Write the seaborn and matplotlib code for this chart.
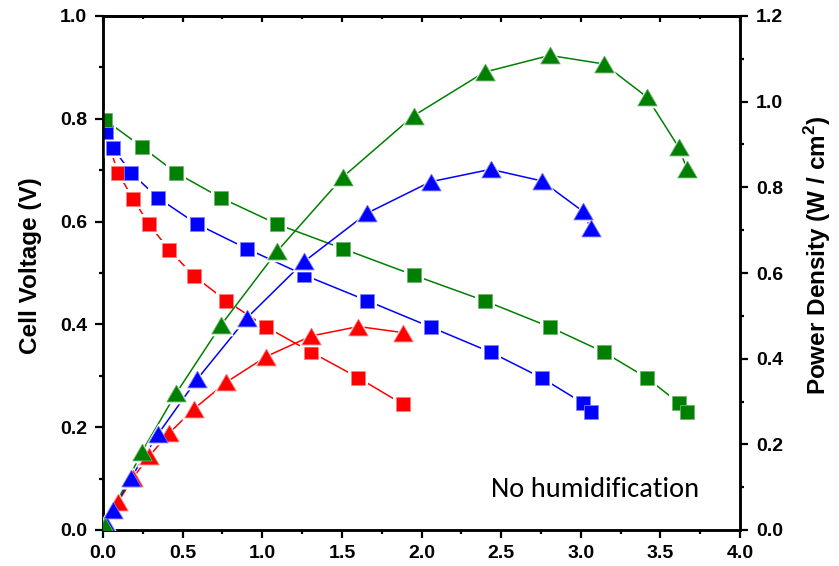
import numpy as np
import pandas as pd
import matplotlib
matplotlib.use("Agg")
import matplotlib.pyplot as plt
from matplotlib.ticker import MultipleLocator
import seaborn as sns

# ---- data ----
current_red = [0.006, 0.094, 0.189, 0.289, 0.415, 0.572, 0.774, 1.025, 1.308, 1.604, 1.881]
voltage_red = [0.780, 0.695, 0.644, 0.595, 0.545, 0.494, 0.446, 0.395, 0.346, 0.296, 0.245]
power_red = [0.005, 0.065, 0.122, 0.172, 0.226, 0.283, 0.345, 0.405, 0.453, 0.475, 0.461]

current_blue = [0.019, 0.063, 0.176, 0.346, 0.591, 0.906, 1.264, 1.660, 2.057, 2.434, 2.755, 3.013, 3.063]
voltage_blue = [0.774, 0.743, 0.695, 0.646, 0.595, 0.547, 0.496, 0.446, 0.395, 0.346, 0.296, 0.247, 0.230]
power_blue = [0.015, 0.047, 0.122, 0.224, 0.352, 0.496, 0.627, 0.740, 0.813, 0.842, 0.815, 0.744, 0.704]

current_green = [0.013, 0.245, 0.459, 0.742, 1.094, 1.509, 1.950, 2.396, 2.805, 3.145, 3.415, 3.616, 3.667]
voltage_green = [0.798, 0.745, 0.695, 0.646, 0.595, 0.547, 0.496, 0.446, 0.395, 0.346, 0.296, 0.247, 0.230]
power_green = [0.010, 0.183, 0.319, 0.479, 0.651, 0.825, 0.967, 1.069, 1.108, 1.088, 1.011, 0.893, 0.843]

x_ticks = [0.0, 0.5, 1.0, 1.5, 2.0, 2.5, 3.0, 3.5, 4.0]
left_ticks = [0.0, 0.2, 0.4, 0.6, 0.8, 1.0]
right_ticks = [0.0, 0.2, 0.4, 0.6, 0.8, 1.0, 1.2]
annotation = "No humidification"
ylabel_left = "Cell Voltage (V)"
ylabel_right = "Power Density (W / cm$^\\mathbf{2}$)"

series = [
    ("red", current_red, voltage_red, power_red, "#ff0000", "#ff8080"),
    ("blue", current_blue, voltage_blue, power_blue, "#0000ff", "#8080ff"),
    ("green", current_green, voltage_green, power_green, "#008000", "#70b070"),
]

sns.set_style("ticks")
plt.rcParams["font.family"] = ["Liberation Sans", "DejaVu Sans"]
plt.rcParams["font.weight"] = "bold"
plt.rcParams["mathtext.fontset"] = "custom"
plt.rcParams["mathtext.bf"] = "Liberation Sans:bold"
plt.rcParams["mathtext.rm"] = "Liberation Sans:bold"
plt.rcParams["text.color"] = "black"
plt.rcParams["axes.labelcolor"] = "black"
plt.rcParams["axes.labelweight"] = "bold"
plt.rcParams["xtick.color"] = "black"
plt.rcParams["ytick.color"] = "black"

fig = plt.figure(figsize=(8.39, 5.66), dpi=100)
ax = fig.add_axes([103 / 839, 1 - 530 / 566, (740 - 103) / 839, (530 - 16) / 566])
ax2 = ax.twinx()

tri = [(0, 0.866), (-1, -0.866), (1, -0.866), (0, 0.866)]

for name, cur, volt, pw, col, edge in series:
    df = pd.DataFrame({"current": cur, "voltage": volt, "power": pw})
    # voltage (squares) on left axis
    sns.lineplot(data=df, x="current", y="voltage", ax=ax, color=col, sort=False,
                 estimator=None, linewidth=1.1, zorder=2)
    ax.plot(df["current"], df["voltage"], linestyle="none", marker="s",
            markersize=14.5, color="white", markeredgewidth=0, zorder=3)
    ax.plot(df["current"], df["voltage"], linestyle="none", marker="s",
            markersize=10.5, markerfacecolor=col, markeredgecolor=edge,
            markeredgewidth=0.6, zorder=4)
    # power (triangles) on right axis
    sns.lineplot(data=df, x="current", y="power", ax=ax2, color=col, sort=False,
                 estimator=None, linewidth=1.1, zorder=2)
    ax2.plot(df["current"], df["power"], linestyle="none", marker=tri,
             markersize=18, color="white", markeredgewidth=0, zorder=3)
    ax2.plot(df["current"], df["power"], linestyle="none", marker=tri,
             markersize=14, markerfacecolor=col, markeredgecolor=edge,
             markeredgewidth=0.6, zorder=4)

ax.set_xlim(0, 4.0)
ax.set_ylim(0, 1.0)
ax2.set_ylim(0, 1.2)
ax.xaxis.set_minor_locator(MultipleLocator(0.25))
ax.yaxis.set_minor_locator(MultipleLocator(0.1))
ax2.yaxis.set_minor_locator(MultipleLocator(0.1))

ax.tick_params(axis="both", which="major", direction="out", length=6, width=1.6, pad=5.5)
ax.tick_params(axis="both", which="minor", direction="out", length=3.2, width=1.6)
ax.tick_params(axis="x", which="major", pad=4.5)
ax2.tick_params(axis="y", which="major", direction="out", length=6, width=1.6, pad=5.5)
ax2.tick_params(axis="y", which="minor", direction="out", length=3.2, width=1.6)

tick_font = dict(fontsize=14, fontweight="bold", family=["Liberation Sans", "DejaVu Sans"])
ax.set_xticks(x_ticks)
ax.set_xticklabels([f"{t:.1f}" for t in x_ticks], **tick_font)
ax.set_yticks(left_ticks)
ax.set_yticklabels([f"{t:.1f}" for t in left_ticks], **tick_font)
ax2.set_yticks(right_ticks)
ax2.set_yticklabels([f"{t:.1f}" for t in right_ticks], **tick_font)

ax.set_xlabel("")
ax.set_ylabel(ylabel_left, fontsize=17.5, fontweight="bold")
ax2.set_ylabel(ylabel_right, fontsize=17.5, fontweight="bold")
ax.yaxis.set_label_coords(-0.096, 0.514)
ax2.yaxis.set_label_coords(1.097, 0.535)

for a in (ax, ax2):
    for s in a.spines.values():
        s.set_linewidth(1.8)
        s.set_color("black")

# top axis: mirrored ticks pointing inward
top = ax.secondary_xaxis("top")
top.set_xticks(x_ticks)
top.xaxis.set_minor_locator(MultipleLocator(0.25))
top.tick_params(axis="x", which="major", direction="in", length=4.5, width=1.6, labeltop=False)
top.tick_params(axis="x", which="minor", direction="in", length=2.5, width=1.6)
top.spines["top"].set_linewidth(1.8)

ax.text(3.09, 0.078, annotation, ha="center", va="center", fontsize=20.5,
        fontweight="normal", family=["Carlito", "DejaVu Sans"], color="black")

fig.savefig("out.png", dpi=100)
